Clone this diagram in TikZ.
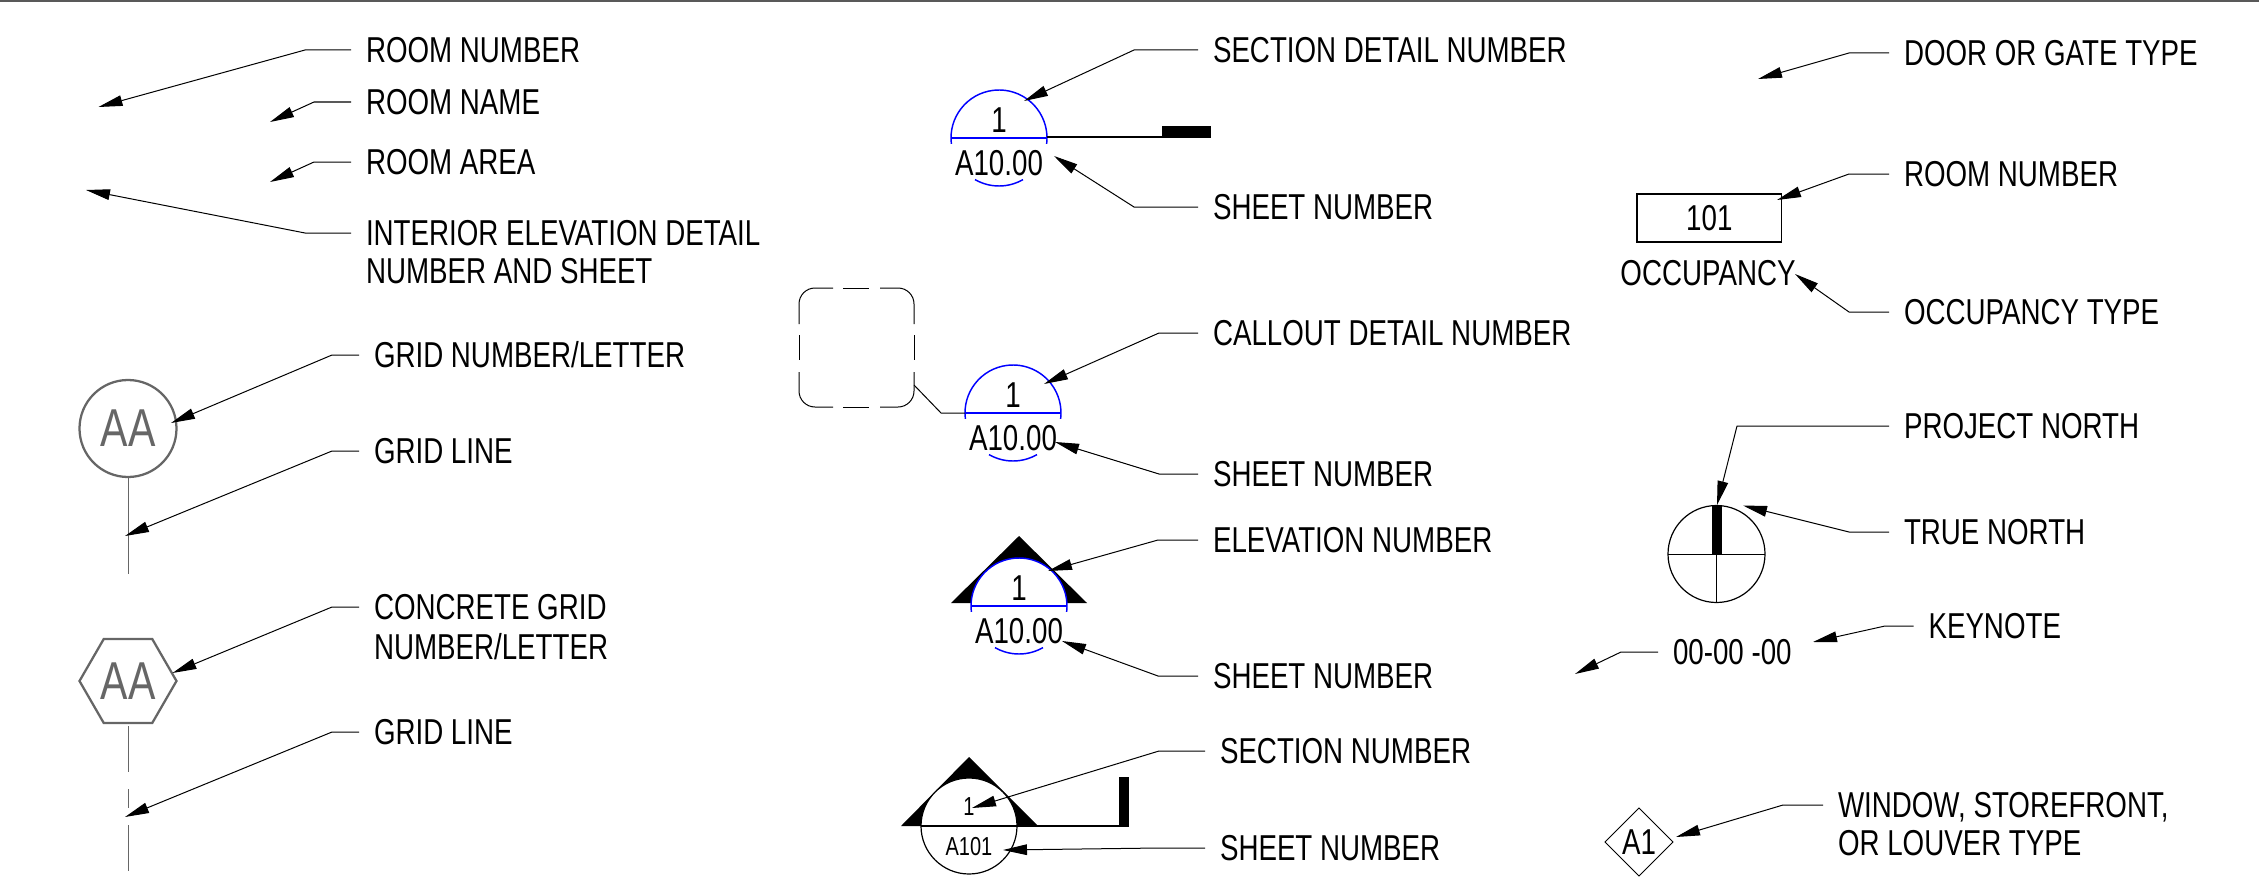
\documentclass[tikz,border=0pt]{standalone}
\usepackage{fontspec}
\setmainfont{Liberation Sans}[FakeStretch=0.77]
\usetikzlibrary{arrows.meta,shapes.geometric}

\tikzset{every picture/.style={line width=0.75pt}}
\tikzset{
	lbl/.style={anchor=west,inner ysep=0pt,inner xsep=11.25pt,outer sep=0pt,font=\fontsize{27}{30}\selectfont,text height=18.6pt,text depth=0pt},
	sym/.style={inner sep=0pt,outer sep=0pt,font=\fontsize{27}{30}\selectfont,text height=18.6pt,text depth=0pt},
	symsmall/.style={inner sep=0pt,outer sep=0pt,font=\fontsize{19.5}{22}\selectfont,text height=13.4pt,text depth=0pt},
	bubble/.style={draw=bubblegray,text=bubblegray,line width=1.7pt,inner sep=0pt,outer sep=0pt,font=\fontsize{40}{44}\selectfont,text height=27.5pt,text depth=0pt},
	leader/.style={-{Triangle[length=18pt,width=8pt]},line width=0.75pt},
	bluearc/.style={draw=blue,line width=1.1pt},
	gridline/.style={draw=bubblegray,line width=0.75pt}
}
\definecolor{bubblegray}{HTML}{666666}

\begin{document}
\begin{tikzpicture}[x=0.75pt,y=0.75pt,yscale=-1,xscale=1]
	\useasboundingbox (0,0) rectangle (2259,892);

	%Straight Lines
	\draw [color=black!65,line width=1.1pt] (0,1) -- (2259,1);

	%Shape: detail heads
	\fill (1019,536) -- (951,603) -- (1087,603) -- cycle;
	\foreach \nm/\cx/\cy in {sec/999/138,call/1013/413,elev/1019/606}{
		\fill [white] (\cx,\cy) ++(180:48) arc[start angle=180,end angle=360,radius=48] -- cycle;
		\draw [bluearc] (\cx,\cy) ++(173:48) arc[start angle=173,end angle=367,radius=48];
		\draw [bluearc] (\cx,\cy) ++(180:48) -- ++(96,0);
		\draw [bluearc] (\cx,\cy) ++(60:48) arc[start angle=60,end angle=120,radius=48];
		\node [sym] (\nm Num) at (\cx,\cy-18) {1};
		\node [sym] (\nm Sheet) at (\cx,\cy+25) {A10.00};
	}

	%Straight Lines
	\draw [line width=0.9pt] (1047,137) -- (1163,137);
	\fill (1162,126) rectangle (1211,137.5);

	%Shape: callout box
	\draw [rounded corners=12] (799,324) -- (799,288) -- (833,288) (880,288) -- (914,288) -- (914,324) (914,372) -- (914,407) -- (880,407) (833,407) -- (799,407) -- (799,372);
	\draw (843,288) -- (869,288) (843,407) -- (869,407) (799,335) -- (799,360) (914,335) -- (914,360);
	\draw (914,385) -- (941,413) -- (965,413);

	%Shape: section mark
	\fill (969,757) -- (901,826) -- (1038,826) -- cycle;
	\draw [fill=white,line width=0.9pt] (969,826) circle (48);
	\draw [line width=0.9pt] (921,826) -- (1120,826);
	\fill (1119,777) rectangle (1128.5,826.5);
	\node [symsmall] (secNum) at (969,807) {1};
	\node [symsmall] (secSheet) at (969,847) {A101};

	%Shape: grid bubbles
	\node [bubble,circle,minimum size=72.75pt] (bubCircle) at (128,428.5) {AA};
	\node [bubble,regular polygon,regular polygon sides=6,minimum size=72.75pt] (bubHex) at (128,681) {AA};
	\coordinate (gridEnd) at (128,574);
	\draw [gridline] (bubCircle.south) -- (gridEnd);
	\draw [gridline] (128,726) -- (128,772) (128,789) -- (128,808) (128,825) -- (128,871);

	%Shape: room tag
	\node [sym,draw,line width=0.9pt,minimum width=108.5pt,minimum height=36pt] (tagRoom) at (1709.3,218) {101};
	\node [sym] (tagOcc) at (1708,273) {OCCUPANCY};

	%Shape: north mark
	\draw [line width=0.9pt] (1716.5,554) circle (48.5);
	\draw (1668,554) -- (1765,554) (1716.5,554) -- (1716.5,602.5);
	\fill (1711.5,505.5) rectangle (1721.5,554);

	%Shape: keynote and window tag
	\node [lbl] (lblCode) at (1658,652) {00-00 -00};
	\node [sym,draw,diamond,aspect=1,line width=0.75pt,minimum width=51pt,minimum height=51pt] (tagWin) at (1639,842) {A1};

	% Text Node
	\node [lbl] (lblRoomNum) at (351,50) {ROOM NUMBER};
	\node [lbl] (lblRoomName) at (351,102) {ROOM NAME};
	\node [lbl] (lblRoomArea) at (351,162) {ROOM AREA};
	\node [lbl] (lblInt) at (351,233) {INTERIOR ELEVATION DETAIL};
	\node [lbl] (lblIntB) at (351,271) {NUMBER AND SHEET};
	\node [lbl] (lblGridNum) at (359,355) {GRID NUMBER/LETTER};
	\node [lbl] (lblGridLine) at (359,451) {GRID LINE};
	\node [lbl] (lblConc) at (359,607) {CONCRETE GRID};
	\node [lbl] (lblConcB) at (359,647) {NUMBER/LETTER};
	\node [lbl] (lblGridLineB) at (359,732) {GRID LINE};
	\node [lbl] (lblSecDet) at (1198,50) {SECTION DETAIL NUMBER};
	\node [lbl] (lblSheetA) at (1198,207) {SHEET NUMBER};
	\node [lbl] (lblCall) at (1198,333) {CALLOUT DETAIL NUMBER};
	\node [lbl] (lblSheetB) at (1198,474) {SHEET NUMBER};
	\node [lbl] (lblElev) at (1198,540) {ELEVATION NUMBER};
	\node [lbl] (lblSheetC) at (1198,676) {SHEET NUMBER};
	\node [lbl] (lblSec) at (1205,751) {SECTION NUMBER};
	\node [lbl] (lblSheetD) at (1205,848) {SHEET NUMBER};
	\node [lbl] (lblDoor) at (1889,53) {DOOR OR GATE TYPE};
	\node [lbl] (lblRoomNumB) at (1889,174) {ROOM NUMBER};
	\node [lbl] (lblOcc) at (1889,312) {OCCUPANCY TYPE};
	\node [lbl] (lblProj) at (1889,426) {PROJECT NORTH};
	\node [lbl] (lblTrue) at (1889,532) {TRUE NORTH};
	\node [lbl] (lblKey) at (1913.5,626) {KEYNOTE};
	\node [lbl] (lblWin) at (1823,805) {WINDOW, STOREFRONT,};
	\node [lbl] (lblWinB) at (1823,843) {OR LOUVER TYPE};

	%Straight Lines
	\foreach \from/\run/\tipx/\tipy in {
		lblRoomNum/-46/98.5/107,lblRoomName/-37/270/122,lblRoomArea/-37/270/182,lblInt/-46/86/190,
		lblGridNum/-27/171/423,lblGridLine/-27/125/536,lblConc/-27/172.5/673,lblGridLineB/-27/125/817,
		lblSecDet/-64/1024/101,lblSheetA/-64/1054/156,lblCall/-39/1044/384,lblSheetB/-39/1055/442,
		lblElev/-40/1048/571,lblSheetC/-40/1062/641,lblSec/-46/972/808,lblSheetD/-46/1003/850,
		lblDoor/-40/1758/79,lblRoomNumB/-40/1777/200,lblOcc/-40/1795/274,lblProj/-152/1717/505,
		lblTrue/-40/1743/505.5,lblKey/-28.5/1813/642,lblCode/-37/1575/674,lblWin/-40/1676/837}{
		\coordinate (tip\from) at (\tipx,\tipy);
		\draw [leader] (\from.west) -- ++(\run,0) -- (tip\from);
	}

\end{tikzpicture}
\end{document}
